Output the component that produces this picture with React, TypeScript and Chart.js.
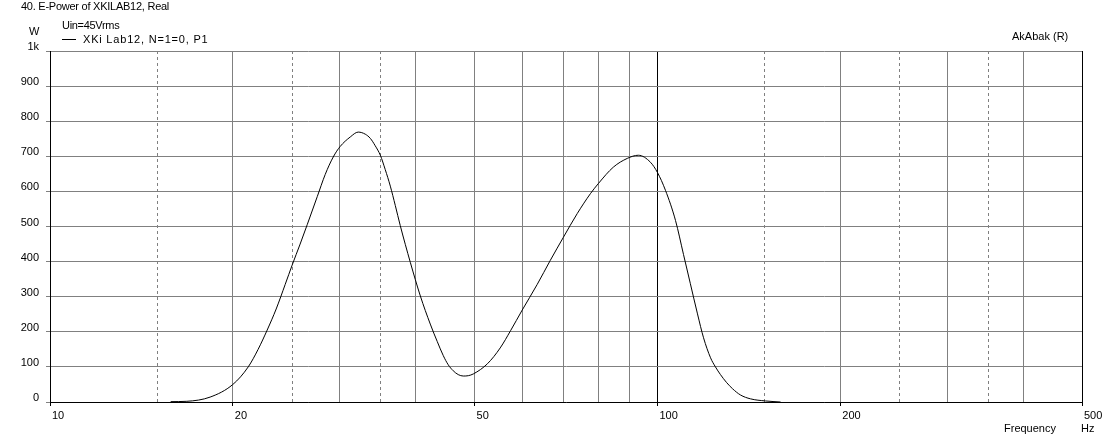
import React, { useEffect, useRef } from 'react';
import { Chart, registerables } from 'chart.js';

Chart.register(...registerables);

// ---- data ----
const FREQ = [
  15.8, 16.8, 18.35, 20.0, 21.2, 22.01, 22.78, 23.57, 24.39, 25.04, 25.81, 26.51, 27.54, 28.38,
  29.26, 30.04, 31.21, 32.17, 33.04, 33.68, 34.31, 34.98, 35.64, 36.33, 37.02, 37.72, 39.19, 40.71,
  42.27, 43.41, 44.41, 45.25, 46.11, 47.0, 47.91, 48.83, 49.77, 52.5, 55.1, 57.3, 59.9, 63.4, 66.6,
  70.0, 73.8, 77.6, 80.0, 84.6, 89.2, 93.0, 97.4, 100.0, 103.1, 107.1, 110.4, 113.3, 116.4, 119.1,
  122.3, 124.6, 127.0, 129.9, 132.9, 137.0, 142.3, 150.6, 159.5,
];
const POWER = [
  1, 2, 14, 50, 100, 150, 205, 265, 335, 390, 450, 505, 585, 648,
  698, 728, 755, 769, 763, 751, 730, 703, 662, 615, 560, 503, 398, 302,
  222, 172, 132, 106, 89, 78, 74, 75, 80, 109, 154, 203, 262, 335, 403,
  469, 537, 594, 623, 669, 694, 703, 683, 654, 603, 517, 420, 337, 251, 183,
  126, 100, 78, 56, 38, 20, 9, 3, 0,
];
const X_TICKS = [10, 20, 30, 40, 50, 60, 70, 80, 90, 100, 200, 300, 400, 500];
const X_LABELED = [10, 20, 50, 100, 200, 500];
const X_DASHED = [15, 25, 35, 150, 250, 350];
const X_MIN = 10;
const X_MAX = 500;
const Y_MIN = 0;
const Y_MAX = 1000;
const Y_STEP = 100;

const TITLE = '40. E-Power of XKILAB12, Real';
const SUBTITLE = 'Uin=45Vrms';
const SERIES_LABEL = 'XKi Lab12, N=1=0, P1';
const Y_UNIT = 'W';
const X_TITLE = 'Frequency';
const X_UNIT = 'Hz';
const CORNER_NOTE = 'AkAbak (R)';

const FONT = '"Liberation Sans", Arial, sans-serif';
const GRID = '#808080';

const gridPlugin = {
  id: 'extraGrid',
  beforeDatasetsDraw(chart: any) {
    const { ctx, chartArea, scales } = chart;
    const xs = scales.x;
    ctx.save();
    ctx.strokeStyle = GRID;
    ctx.lineWidth = 1;
    ctx.setLineDash([3, 3]);
    X_DASHED.forEach((v) => {
      const px = Math.round(xs.getPixelForValue(v)) + 0.5;
      ctx.beginPath();
      ctx.moveTo(px, chartArea.top);
      ctx.lineTo(px, chartArea.bottom);
      ctx.stroke();
    });
    ctx.restore();
  },
  afterDraw(chart: any) {
    const { ctx, chartArea } = chart;
    ctx.save();
    ctx.strokeStyle = '#000';
    ctx.lineWidth = 1;
    const px = Math.round(chartArea.right) + 0.5;
    ctx.beginPath();
    ctx.moveTo(px, chartArea.top);
    ctx.lineTo(px, chartArea.bottom + 3);
    ctx.stroke();
    ctx.restore();
  },
};

export default function App() {
  const ref = useRef<HTMLCanvasElement | null>(null);

  useEffect(() => {
    document.body.style.margin = '0';
    const canvas = ref.current;
    if (!canvas) return;
    const chart = new Chart(canvas, {
      type: 'line',
      data: {
        datasets: [
          {
            label: SERIES_LABEL,
            data: FREQ.map((f, i) => ({ x: f, y: POWER[i] })),
            borderColor: '#000',
            borderWidth: 1,
            pointRadius: 0,
            cubicInterpolationMode: 'monotone',
            fill: false,
          },
        ],
      },
      options: {
        responsive: false,
        animation: false,
        events: [],
        layout: { padding: { top: 51, right: 26, left: 0, bottom: 0 } },
        plugins: { legend: { display: false }, tooltip: { enabled: false } },
        scales: {
          x: {
            type: 'logarithmic',
            min: X_MIN,
            max: X_MAX,
            afterBuildTicks: (s: any) => {
              s.ticks = X_TICKS.map((v) => ({ value: v }));
            },
            afterFit: (s: any) => {
              s.height = 38;
            },
            grid: {
              lineWidth: 1,
              drawTicks: true,
              tickLength: 4,
              color: (c: any) => {
                const v = c.tick ? c.tick.value : 0;
                if (v === 100) return '#000';
                if (v === X_MIN || v === X_MAX) return 'rgba(0,0,0,0)';
                return GRID;
              },
              tickColor: (c: any) =>
                c.tick && X_LABELED.includes(c.tick.value) ? '#000' : 'rgba(0,0,0,0)',
            },
            border: { display: true, color: '#000', width: 1 },
            ticks: {
              autoSkip: false,
              maxRotation: 0,
              minRotation: 0,
              align: 'start',
              labelOffset: 2,
              padding: 3,
              color: '#000',
              font: { family: FONT, size: 11 },
              callback: (v: any) => (X_LABELED.includes(Number(v)) ? String(v) : ''),
            },
          },
          y: {
            min: Y_MIN,
            max: Y_MAX,
            afterFit: (s: any) => {
              s.width = 50;
            },
            grid: { color: GRID, lineWidth: 1, tickLength: 4 },
            border: { display: true, color: '#000', width: 1 },
            ticks: {
              stepSize: Y_STEP,
              padding: 7,
              labelOffset: -4,
              color: '#000',
              font: { family: FONT, size: 11 },
              callback: (v: any) => (Number(v) === 1000 ? '1k' : String(v)),
            },
          },
        },
      },
      plugins: [gridPlugin],
    } as any);
    return () => chart.destroy();
  }, []);

  const txt: React.CSSProperties = {
    position: 'absolute',
    fontFamily: FONT,
    fontSize: '11px',
    lineHeight: '12px',
    color: '#000',
    whiteSpace: 'nowrap',
  };

  return (
    <div style={{ position: 'relative', width: 1108, height: 440, background: '#fff' }}>
      <canvas ref={ref} width={1108} height={440} style={{ display: 'block' }} />
      <span style={{ ...txt, left: 21, top: 0, letterSpacing: '-0.25px' }}>{TITLE}</span>
      <span style={{ ...txt, left: 62, top: 19, letterSpacing: '-0.3px' }}>{SUBTITLE}</span>
      <span style={{ ...txt, left: 29, top: 25 }}>{Y_UNIT}</span>
      <span
        style={{ position: 'absolute', left: 62, top: 39, width: 14, height: 1, background: '#000' }}
      />
      <span style={{ ...txt, left: 83, top: 33, letterSpacing: '0.8px' }}>{SERIES_LABEL}</span>
      <span style={{ ...txt, left: 1012, top: 30 }}>{CORNER_NOTE}</span>
      <span style={{ ...txt, left: 1004, top: 422 }}>{X_TITLE}</span>
      <span style={{ ...txt, left: 1081, top: 422 }}>{X_UNIT}</span>
    </div>
  );
}
